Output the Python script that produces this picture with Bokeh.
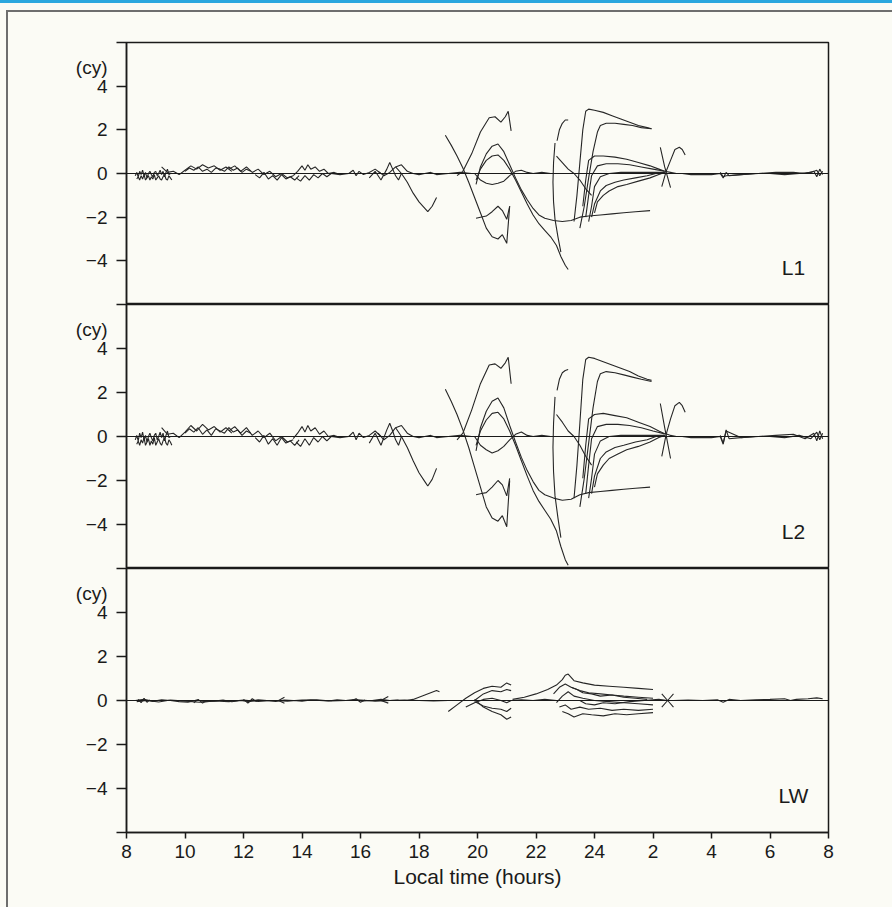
from bokeh.plotting import figure
from bokeh.layouts import column
from bokeh.models import Range1d, FixedTicker, Span, Label
from bokeh.embed import file_html
from bokeh.resources import INLINE

# ---------------- axis data ----------------
X_TICKS = [8, 10, 12, 14, 16, 18, 20, 22, 24, 26, 28, 30, 32]
X_TICK_LABELS = ["8", "10", "12", "14", "16", "18", "20", "22", "24", "2", "4", "6", "8"]
Y_MARK_TICKS = [-6, -4, -2, 0, 2, 4, 6]
Y_LABEL_TICKS = [-4, -2, 0, 2, 4, 4.85]
Y_TICK_LABELS = ["\u22124", "\u22122", "0", "2", "4", "(cy)"]
PANEL_NAMES = ["L1", "L2", "LW"]
X_TITLE = "Local time (hours)"

# ---------------- epochs (local hours) shared by the L1 and L2 residual traces ----------------
SHARED_HOURS = [
    [8.3, 8.35, 8.4, 8.45, 8.5, 8.55, 8.6, 8.65, 8.7, 8.75, 8.8, 8.85, 8.9, 8.95, 9.0, 9.05,
     9.1, 9.15, 9.2, 9.25, 9.3, 9.35, 9.4, 9.45, 9.5],
    [8.35, 8.4, 8.45, 8.5, 8.55, 8.6, 8.65, 8.7, 8.75, 8.8, 8.85, 8.9, 8.95, 9.0, 9.05, 9.1,
     9.15, 9.2, 9.25, 9.3, 9.35, 9.4, 9.45, 9.5, 9.55],
    [9.2, 9.4, 9.6, 9.8, 10.0, 10.2, 10.4, 10.6, 10.8, 11.0, 11.2, 11.4, 11.6],
    [10.0, 10.15, 10.3, 10.45, 10.6, 10.75, 10.9, 11.05, 11.2, 11.35, 11.5, 11.65, 11.8, 11.95, 12.1, 12.25],
    [11.5, 11.7, 11.9, 12.1, 12.3, 12.5, 12.7, 12.9, 13.1, 13.3, 13.5, 13.7],
    [12.4, 12.55, 12.7, 12.85, 13.0, 13.15, 13.3, 13.45, 13.6, 13.75, 13.9],
    [13.7, 13.85, 14.0, 14.1, 14.2, 14.3, 14.45, 14.6, 14.75, 14.9, 15.1, 15.3],
    [13.8, 13.95, 14.1, 14.25, 14.4, 14.55, 14.7, 14.85, 15.0],
    [15.0, 15.3, 15.6, 15.75, 15.85, 15.95, 16.1, 16.3, 16.5, 16.7],
    [16.3, 16.5, 16.7, 16.9, 17.0, 17.1, 17.2, 17.3, 17.4],
    [16.6, 16.8, 17.0, 17.2, 17.4, 17.6, 17.8, 18.0, 18.2, 18.4, 18.6, 19.0, 19.4, 19.8],
    [17.2, 17.4, 17.6, 17.8, 18.0, 18.2, 18.3, 18.45, 18.6],
    [19.3, 19.5, 19.8, 20.1, 20.4, 20.6, 20.8, 20.95, 21.05, 21.15],
    [18.9, 19.1, 19.3, 19.5, 19.7, 19.9, 20.1, 20.3, 20.5, 20.7, 20.85, 21.0, 21.1],
    [19.95, 20.1, 20.3, 20.5, 20.7, 20.85, 21.0, 21.1],
    [19.95, 20.1, 20.3, 20.5, 20.7, 20.9, 21.1, 21.3, 21.5, 21.7, 21.9, 22.1, 22.3, 22.6, 22.9,
     23.2, 23.5, 23.8, 24.2, 24.6, 25.0, 25.4, 25.9],
    [19.95, 20.1, 20.3, 20.5, 20.7, 20.9, 21.1, 21.3, 21.5, 21.7, 21.9, 22.1, 22.3, 22.5, 22.7,
     22.85, 23.0, 23.1],
    [19.9, 20.1, 20.3, 20.5, 20.7, 20.9, 21.1, 21.3, 21.5, 21.7, 21.9, 22.2, 22.5],
    [22.72, 22.8, 22.9, 23.0, 23.1],
    [22.65, 22.6, 22.58, 22.6, 22.65, 22.75, 22.85],
    [23.3, 23.4, 23.5, 23.6, 23.7, 23.8, 24.0, 24.3, 24.6, 24.9, 25.2, 25.5, 25.8, 25.95],
    [23.5, 23.65, 23.8, 23.95, 24.1, 24.2, 24.4, 24.7, 25.0, 25.3, 25.6, 25.95],
    [22.7, 22.9, 23.1, 23.3, 23.5, 23.7, 23.9],
    [23.6, 23.7, 23.8, 24.0, 24.3, 24.7, 25.1, 25.5, 25.9, 26.2, 26.4],
    [23.7, 23.8, 23.9, 24.1, 24.4, 24.8, 25.2, 25.6, 26.0, 26.4],
    [23.8, 23.9, 24.0, 24.2, 24.5, 24.9, 25.3, 25.7, 26.1, 26.4],
    [23.9, 24.0, 24.2, 24.4, 24.7, 25.0, 25.4, 25.8, 26.1, 26.4],
    [24.0, 24.1, 24.3, 24.5, 24.8, 25.1, 25.5, 25.9, 26.2, 26.4],
    [26.25, 26.4, 26.6],
    [26.3, 26.45, 26.6, 26.75, 26.9, 27.0, 27.1],
    [26.4, 26.6, 26.8, 27.0, 27.3, 27.6, 28.0, 28.3, 28.4, 28.5, 28.6, 29.0, 29.5, 30.0, 30.5,
     31.0, 31.4, 31.6, 31.7, 31.8],
    [28.3, 28.4, 28.5, 29.0, 29.6, 30.2, 30.8, 31.2, 31.5, 31.6, 31.7, 31.8],
]

# ---------------- L1 residuals (cycles) ----------------
L1_CYCLES = [
    [-0.1, 0.05, -0.15, 0.1, -0.05, 0.15, -0.1, 0.05, -0.2, 0.0, 0.1, -0.05, -0.15, 0.05, 0.1,
     -0.1, 0.0, 0.15, -0.05, 0.1, -0.15, 0.05, 0.2, -0.05, 0.0],
    [-0.25, -0.15, -0.3, -0.1, -0.25, -0.05, -0.3, -0.2, -0.1, -0.3, -0.15, -0.25, -0.05, -0.3,
     -0.2, -0.1, -0.25, -0.3, -0.15, -0.05, -0.25, -0.3, -0.1, -0.2, -0.3],
    [0.3, 0.05, 0.1, -0.05, 0.15, 0.35, 0.2, 0.4, 0.25, 0.35, 0.15, 0.3, 0.1],
    [0.1, 0.25, 0.15, 0.3, 0.1, 0.2, 0.05, 0.25, 0.2, 0.1, 0.3, 0.15, 0.25, 0.05, 0.2, 0.1],
    [0.2, 0.35, 0.1, 0.3, 0.05, 0.2, -0.05, 0.1, -0.15, 0.0, -0.2, -0.1],
    [-0.05, -0.2, 0.05, -0.25, -0.1, -0.3, -0.05, -0.25, -0.15, -0.3, -0.1],
    [-0.1, 0.1, 0.35, 0.15, 0.4, 0.2, 0.3, 0.1, 0.2, 0.0, 0.05, -0.05],
    [-0.2, -0.35, -0.1, -0.3, -0.05, -0.2, 0.0, -0.15, 0.0],
    [0.0, -0.05, 0.0, 0.15, -0.1, 0.1, -0.05, 0.05, 0.2, 0.0],
    [-0.2, 0.1, -0.3, 0.2, 0.5, 0.2, -0.1, -0.3, 0.0],
    [0.1, -0.1, 0.05, 0.3, 0.4, 0.1, 0.0, -0.05, 0.0, 0.05, -0.05, 0.0, 0.05, 0.0],
    [0.3, 0.0, -0.4, -0.9, -1.3, -1.6, -1.75, -1.5, -1.1],
    [-0.1, 0.1, 0.9, 1.9, 2.55, 2.6, 2.35, 2.6, 2.85, 1.95],
    [1.75, 1.3, 0.8, 0.25, -0.4, -1.1, -1.8, -2.5, -2.9, -3.0, -2.8, -3.2, -1.5],
    [-2.05, -2.0, -1.95, -1.75, -1.5, -1.7, -2.1, -1.5],
    [-0.5, 0.3, 0.9, 1.25, 1.35, 1.0, 0.4, -0.2, -0.75, -1.2, -1.6, -1.9, -2.05, -2.15, -2.2,
     -2.15, -2.0, -1.95, -1.9, -1.85, -1.8, -1.75, -1.7],
    [-0.3, 0.2, 0.6, 0.8, 0.85, 0.6, 0.2, -0.3, -0.85, -1.4, -1.9, -2.3, -2.6, -2.9, -3.3,
     -3.8, -4.2, -4.4],
    [0.0, -0.3, -0.45, -0.5, -0.45, -0.35, -0.1, 0.1, 0.15, 0.05, 0.0, 0.05, 0.0],
    [1.5, 2.0, 2.3, 2.45, 2.45],
    [1.4, 0.5, -0.4, -1.3, -2.1, -2.9, -3.6],
    [-2.2, -1.0, 0.5, 2.0, 2.85, 2.95, 2.9, 2.8, 2.65, 2.5, 2.35, 2.2, 2.1, 2.05],
    [-2.5, -1.5, -0.2, 1.0, 1.9, 2.2, 2.3, 2.3, 2.25, 2.2, 2.1, 2.05],
    [0.8, 0.5, 0.2, 0.0, -0.3, -0.7, -1.0],
    [-1.5, -0.3, 0.6, 0.8, 0.8, 0.75, 0.65, 0.5, 0.35, 0.2, 0.1],
    [-2.0, -1.0, -0.1, 0.35, 0.45, 0.45, 0.4, 0.3, 0.2, 0.1],
    [-2.2, -1.5, -0.6, -0.15, 0.0, 0.05, 0.05, 0.05, 0.05, 0.05],
    [-2.0, -1.4, -0.8, -0.55, -0.4, -0.3, -0.2, -0.1, 0.0, 0.05],
    [-1.8, -1.3, -1.0, -0.8, -0.6, -0.5, -0.35, -0.2, -0.05, 0.05],
    [1.2, 0.3, -0.65],
    [-0.6, 0.1, 0.6, 1.1, 1.2, 1.1, 0.85],
    [0.1, 0.05, 0.0, 0.0, -0.05, -0.05, -0.05, 0.0, -0.2, 0.05, -0.1, -0.05, 0.0, 0.0, -0.05,
     0.0, 0.05, 0.15, -0.1, 0.1],
    [0.05, -0.15, -0.1, -0.05, 0.0, 0.05, 0.05, 0.0, 0.1, -0.15, 0.2, -0.05],
]

# ---------------- L2 residuals (cycles) ----------------
L2_CYCLES = [
    [-0.15, 0.05, -0.2, 0.15, -0.05, 0.2, -0.15, 0.05, -0.25, 0.0, 0.15, -0.05, -0.2, 0.05, 0.15,
     -0.15, 0.0, 0.2, -0.05, 0.15, -0.2, 0.05, 0.25, -0.05, 0.0],
    [-0.35, -0.2, -0.4, -0.15, -0.3, -0.05, -0.4, -0.25, -0.1, -0.4, -0.2, -0.35, -0.05, -0.4,
     -0.25, -0.1, -0.3, -0.4, -0.2, -0.05, -0.3, -0.4, -0.15, -0.25, -0.4],
    [0.4, 0.1, 0.15, -0.05, 0.2, 0.5, 0.25, 0.55, 0.3, 0.45, 0.2, 0.4, 0.15],
    [0.15, 0.35, 0.2, 0.4, 0.1, 0.3, 0.05, 0.35, 0.25, 0.15, 0.4, 0.2, 0.3, 0.05, 0.25, 0.15],
    [0.25, 0.45, 0.15, 0.4, 0.05, 0.25, -0.05, 0.15, -0.2, 0.0, -0.25, -0.15],
    [-0.05, -0.25, 0.05, -0.35, -0.1, -0.4, -0.05, -0.3, -0.2, -0.4, -0.15],
    [-0.1, 0.15, 0.45, 0.2, 0.5, 0.25, 0.4, 0.1, 0.25, 0.0, 0.05, -0.05],
    [-0.25, -0.45, -0.1, -0.4, -0.05, -0.25, 0.0, -0.2, 0.0],
    [0.0, -0.05, 0.0, 0.2, -0.15, 0.15, -0.05, 0.05, 0.25, 0.0],
    [-0.3, 0.15, -0.4, 0.3, 0.6, 0.25, -0.15, -0.4, 0.0],
    [0.15, -0.15, 0.05, 0.4, 0.5, 0.15, 0.0, -0.05, 0.0, 0.05, -0.05, 0.0, 0.05, 0.0],
    [0.4, 0.0, -0.5, -1.1, -1.65, -2.05, -2.25, -1.95, -1.45],
    [-0.15, 0.15, 1.2, 2.4, 3.25, 3.3, 3.1, 3.35, 3.6, 2.4],
    [2.15, 1.6, 1.0, 0.3, -0.5, -1.4, -2.3, -3.2, -3.7, -3.85, -3.6, -4.1, -2.0],
    [-2.65, -2.6, -2.55, -2.3, -2.0, -2.2, -2.7, -1.9],
    [-0.65, 0.4, 1.15, 1.6, 1.75, 1.3, 0.5, -0.25, -0.95, -1.55, -2.05, -2.45, -2.65, -2.8, -2.9,
     -2.85, -2.65, -2.55, -2.5, -2.45, -2.4, -2.35, -2.3],
    [-0.4, 0.25, 0.75, 1.05, 1.1, 0.8, 0.25, -0.4, -1.1, -1.8, -2.45, -2.95, -3.35, -3.75, -4.3,
     -5.0, -5.6, -5.85],
    [0.0, -0.4, -0.6, -0.75, -0.65, -0.45, -0.15, 0.1, 0.2, 0.05, 0.0, 0.05, 0.0],
    [2.1, 2.6, 2.9, 3.0, 3.05],
    [1.8, 0.6, -0.5, -1.6, -2.7, -3.7, -4.6],
    [-2.8, -1.3, 0.6, 2.6, 3.5, 3.6, 3.55, 3.4, 3.25, 3.1, 2.95, 2.75, 2.6, 2.55],
    [-3.2, -1.9, -0.3, 1.3, 2.5, 2.85, 2.95, 2.9, 2.8, 2.7, 2.6, 2.5],
    [1.0, 0.65, 0.25, 0.0, -0.4, -0.9, -1.3],
    [-1.9, -0.4, 0.8, 1.0, 1.05, 0.95, 0.85, 0.65, 0.45, 0.25, 0.12],
    [-2.6, -1.3, -0.1, 0.45, 0.55, 0.55, 0.5, 0.4, 0.25, 0.12],
    [-2.8, -1.9, -0.8, -0.2, 0.0, 0.05, 0.05, 0.05, 0.05, 0.05],
    [-2.6, -1.8, -1.0, -0.7, -0.5, -0.4, -0.25, -0.15, 0.0, 0.05],
    [-2.3, -1.7, -1.3, -1.0, -0.8, -0.6, -0.45, -0.25, -0.05, 0.05],
    [1.5, 0.4, -1.0],
    [-0.9, 0.1, 0.8, 1.4, 1.55, 1.4, 1.1],
    [0.15, 0.05, 0.0, 0.0, -0.05, -0.05, -0.05, 0.0, -0.35, 0.3, -0.1, -0.05, 0.0, 0.0, -0.05,
     0.05, -0.1, 0.2, -0.15, 0.15],
    [0.05, -0.3, 0.25, -0.05, 0.0, 0.05, 0.1, -0.1, 0.15, -0.2, 0.25, -0.1],
]

# ---------------- wide-lane residuals ----------------
LW_HOURS = [
    [8.3, 8.6, 8.9, 9.2, 9.5, 9.8, 10.1, 10.4, 10.7, 11.0, 11.3, 11.6, 11.9, 12.2, 12.5, 12.8,
     13.1, 13.4, 13.7, 14.0, 14.3, 14.6, 14.9, 15.2, 15.5, 15.8, 16.1, 16.4, 16.7, 17.0, 17.3],
    [8.35, 8.7, 9.1, 9.5, 10.0, 10.5, 11.0, 11.5, 12.0, 12.5, 13.0, 13.5, 14.0, 14.5, 15.0,
     15.5, 16.0, 16.5, 17.0, 17.5, 18.0, 18.5, 19.0],
    [8.4, 8.5, 8.6, 8.7, 8.8],
    [10.3, 10.45, 10.6, 10.75],
    [12.0, 12.15, 12.3, 12.45],
    [13.4, 13.2, 13.4],
    [15.7, 15.85, 16.0, 16.15],
    [16.95, 16.7, 16.95],
    [17.6, 17.8, 18.0, 18.2, 18.4, 18.6, 18.7],
    [19.0, 19.3, 19.6, 19.9, 20.2, 20.5, 20.8, 21.0, 21.15],
    [19.9, 20.2, 20.5, 20.8, 21.0, 21.15],
    [19.6, 19.9, 20.2, 20.5, 20.8, 21.0, 21.15],
    [19.9, 20.2, 20.5, 20.8, 21.0, 21.15],
    [19.9, 20.2, 20.5, 20.8, 21.0, 21.15],
    [21.15, 21.5, 21.9, 22.3, 22.7],
    [21.2, 21.6, 22.0, 22.4, 22.7, 22.9, 23.0, 23.1, 23.3, 23.6, 24.0, 24.5, 25.0, 25.5, 26.0],
    [22.6, 22.8, 23.0, 23.2, 23.5, 23.8, 24.2, 24.6, 25.0, 25.5, 26.0],
    [22.7, 22.9, 23.1, 23.3, 23.6, 24.0, 24.5, 25.0, 25.5, 26.0],
    [22.8, 23.0, 23.2, 23.5, 23.8, 24.2, 24.6, 25.0, 25.5, 26.0],
    [22.9, 23.1, 23.3, 23.6, 23.9, 24.3, 24.7, 25.1, 25.5, 26.0],
    [23.2, 23.4, 23.6, 23.9, 24.2, 24.6, 25.0, 25.4, 25.8],
    [23.5, 23.7, 24.0, 24.3, 24.7, 25.2, 25.7, 26.2, 26.5],
    [26.3, 26.5, 26.7],
    [26.3, 26.5, 26.7],
    [26.7, 27.2, 27.7, 28.2, 28.4, 28.6, 29.0, 29.5, 30.0, 30.5, 30.7, 30.9, 31.3, 31.6, 31.8],
]
LW_CYCLES = [
    [0.0, 0.06, -0.04, 0.03, 0.0, -0.05, -0.08, 0.02, -0.06, -0.03, 0.02, -0.06, 0.0, -0.05, 0.03,
     0.0, -0.04, 0.02, 0.0, -0.03, 0.02, 0.0, -0.02, 0.03, 0.0, 0.04, -0.02, 0.0, 0.05, 0.0, 0.02],
    [-0.05, 0.0, -0.07, 0.02, -0.03, -0.08, -0.02, -0.05, 0.02, -0.04, 0.0, -0.03, 0.02, 0.03,
     -0.02, 0.0, 0.02, -0.03, 0.0, 0.02, 0.0, -0.02, 0.0],
    [0.05, -0.1, 0.1, -0.08, 0.03],
    [-0.1, 0.05, -0.12, 0.0],
    [0.05, -0.12, 0.08, -0.05],
    [0.15, 0.0, -0.12],
    [0.0, 0.08, -0.08, 0.02],
    [0.18, 0.0, -0.12],
    [0.0, 0.05, 0.15, 0.25, 0.35, 0.45, 0.4],
    [-0.5, -0.2, 0.1, 0.35, 0.55, 0.65, 0.6, 0.8, 0.7],
    [0.0, 0.3, 0.45, 0.4, 0.5, 0.45],
    [-0.3, -0.1, 0.05, 0.1, 0.0, -0.1, 0.0],
    [-0.05, -0.25, -0.35, -0.4, -0.5, -0.35],
    [0.05, -0.3, -0.5, -0.65, -0.85, -0.75],
    [0.0, 0.03, 0.0, 0.05, 0.0],
    [0.05, 0.15, 0.3, 0.5, 0.7, 0.95, 1.15, 1.2, 0.9, 0.8, 0.7, 0.65, 0.6, 0.55, 0.5],
    [0.3, 0.6, 0.75, 0.6, 0.45, 0.35, 0.3, 0.25, 0.2, 0.15, 0.1],
    [-0.1, 0.2, 0.4, 0.2, 0.1, 0.0, -0.05, -0.1, -0.15, -0.2],
    [-0.3, -0.2, -0.4, -0.3, -0.4, -0.35, -0.45, -0.4, -0.45, -0.4],
    [-0.5, -0.6, -0.75, -0.6, -0.65, -0.7, -0.6, -0.65, -0.6, -0.55],
    [0.6, 0.5, 0.35, 0.3, 0.2, 0.25, 0.15, 0.1, 0.05],
    [0.0, -0.15, -0.2, -0.1, -0.15, -0.05, 0.0, 0.05, 0.0],
    [0.3, 0.0, -0.3],
    [-0.3, 0.0, 0.3],
    [0.0, 0.02, 0.0, 0.03, -0.08, 0.05, 0.0, 0.03, 0.05, 0.08, 0.0, 0.05, 0.08, 0.12, 0.08],
]

# ---------------- styling ----------------
BG = "#fbfbf5"
INK = "#1a1a1a"
TRACE = "#262626"
FONT = "Liberation Sans"
TICK_FS = "19px"
TEXT_FS = "21px"
W = 892
LEFT = 126
RIGHT = 64

x_range = Range1d(8, 32)


def make_panel(name, hours, cycles, height, top, bottom, show_x):
    p = figure(width=W, height=height, x_range=x_range, y_range=Range1d(-6, 6),
               output_backend="svg", toolbar_location=None, tools="",
               x_axis_location="below" if show_x else None,
               min_border_left=LEFT, min_border_right=RIGHT,
               min_border_top=top, min_border_bottom=bottom)
    p.background_fill_color = BG
    p.border_fill_color = None
    p.outline_line_color = INK
    p.outline_line_width = 1.5
    p.grid.visible = False

    ya = p.yaxis[0]
    ya.ticker = FixedTicker(ticks=Y_LABEL_TICKS, minor_ticks=Y_MARK_TICKS)
    ya.major_label_overrides = {t: s for t, s in zip(Y_LABEL_TICKS, Y_TICK_LABELS)}
    ya.major_tick_in = 0
    ya.major_tick_out = 0
    ya.major_tick_line_color = None
    ya.minor_tick_in = 0
    ya.minor_tick_out = 10
    ya.minor_tick_line_color = INK
    ya.minor_tick_line_width = 1.5
    ya.axis_line_color = INK
    ya.axis_line_width = 1.5
    ya.major_label_text_font = FONT
    ya.major_label_text_font_size = TICK_FS
    ya.major_label_text_color = INK
    ya.major_label_standoff = 9

    if show_x:
        xa = p.xaxis[0]
        xa.ticker = FixedTicker(ticks=X_TICKS)
        xa.major_label_overrides = {t: s for t, s in zip(X_TICKS, X_TICK_LABELS)}
        xa.major_tick_in = 0
        xa.major_tick_out = 6
        xa.minor_tick_line_color = None
        xa.axis_line_color = INK
        xa.axis_line_width = 1.5
        xa.major_tick_line_color = INK
        xa.major_tick_line_width = 1.5
        xa.major_label_text_font = FONT
        xa.major_label_text_font_size = TICK_FS
        xa.major_label_text_color = INK
        xa.major_label_standoff = 6
        xa.axis_label = X_TITLE
        xa.axis_label_text_font = FONT
        xa.axis_label_text_font_size = TEXT_FS
        xa.axis_label_text_font_style = "normal"
        xa.axis_label_text_color = INK
        xa.axis_label_standoff = 4

    p.add_layout(Span(location=0, dimension="width", line_color=INK, line_width=1))
    p.multi_line(xs=hours, ys=cycles, line_color=TRACE, line_width=1.1)

    p.add_layout(Label(x=30.8, y=-4.3, text=name, text_align="center",
                       text_baseline="middle", text_font=FONT, text_font_size=TEXT_FS,
                       text_color=INK))
    return p


p1 = make_panel(PANEL_NAMES[0], SHARED_HOURS, L1_CYCLES, 304, 42, 0, False)
p2 = make_panel(PANEL_NAMES[1], SHARED_HOURS, L2_CYCLES, 264, 0, 0, False)
p3 = make_panel(PANEL_NAMES[2], LW_HOURS, LW_CYCLES, 339, 0, 75, True)

page_styles = {
    "background-color": BG,
    "background-image": ("linear-gradient(#2ba7de, #2ba7de), "
                         "linear-gradient(#6e6e6e, #6e6e6e), "
                         "linear-gradient(#6e6e6e, #6e6e6e)"),
    "background-size": "100% 3px, 100% 2px, 2px 100%",
    "background-position": "0px 0px, 6px 10px, 6px 10px",
    "background-repeat": "no-repeat",
}

layout = column(p1, p2, p3, spacing=0, styles=page_styles)

open("out.html", "w").write(file_html(layout, INLINE, title="L1 L2 LW residuals"))
